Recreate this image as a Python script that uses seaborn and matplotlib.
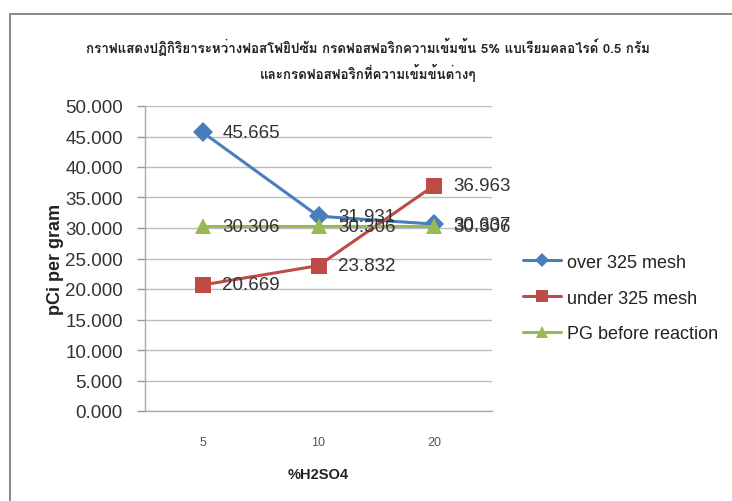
import matplotlib
matplotlib.use("Agg")
import matplotlib.pyplot as plt
from matplotlib import font_manager
from matplotlib.patches import Rectangle
from fontTools.ttLib import TTFont
import pandas as pd
import seaborn as sns

# Data
concentrations = ["5", "10", "20"]
over_325 = [45.665, 31.931, 30.637]
under_325 = [20.669, 23.832, 36.963]
pg_before = [30.306, 30.306, 30.306]
series_names = ["over 325 mesh", "under 325 mesh", "PG before reaction"]
title_lines = [
    "กราฟแสดงปฏิกิริยาระหว่างฟอสโฟยิปซัม กรดฟอสฟอริกความเข้มข้น 5% แบเรียมคลอไรด์ 0.5 กรัม",
    "และกรดฟอสฟอริกที่ความเข้มข้นต่างๆ",
]


def find_thai_family():
    for f in font_manager.fontManager.ttflist:
        try:
            tt = TTFont(f.fname, fontNumber=0, lazy=True)
            cmap = tt.getBestCmap()
            if cmap and 0x0E01 in cmap and 0x0E1F in cmap:
                return f.name
        except Exception:
            continue
    return None


thai_family = find_thai_family()

df = pd.DataFrame({
    "conc": concentrations * 3,
    "value": over_325 + under_325 + pg_before,
    "series": [series_names[0]] * 3 + [series_names[1]] * 3 + [series_names[2]] * 3,
})

colors = ["#4A7EBB", "#BE4B48", "#98B954"]
markers = {series_names[0]: "D", series_names[1]: "s", series_names[2]: "^"}
msizes = {series_names[0]: 10, series_names[1]: 12, series_names[2]: 12}

sns.set_theme(style="white")
plt.rcParams["font.family"] = ["Liberation Sans", "DejaVu Sans"]

fig = plt.figure(figsize=(7.32, 5.02), dpi=100)
ax = fig.add_axes([145 / 732, 1 - 412 / 502, 347 / 732, 305 / 502])

# outer chart frame
fig.patches.append(Rectangle((10 / 732, -0.1), 1.2, 1 - 15 / 502 + 0.1,
                             transform=fig.transFigure, fill=False,
                             edgecolor="#7F7F7F", linewidth=1.3))

sns.lineplot(data=df, x="conc", y="value", hue="series", style="series",
             markers=markers, dashes=False, palette=colors, linewidth=2.2,
             markeredgewidth=0, ax=ax, legend=False, sort=False)
for line, name in zip(ax.lines, series_names):
    line.set_markersize(msizes[name])

ax.set_xlim(-0.5, 2.5)
ax.set_ylim(0, 50)
ax.set_yticks(range(0, 51, 5))
ax.set_yticklabels([f"{v:.3f}" for v in range(0, 51, 5)], fontsize=13.5, color="#333333")
ax.set_xticks(range(len(concentrations)))
ax.set_xticklabels(concentrations, fontsize=9, color="#555555")
ax.tick_params(axis="x", length=0, pad=18)
ax.tick_params(axis="y", length=6, width=1, color="#999999", left=True, pad=10)
ax.grid(axis="y", color="#BDBDBD", linewidth=1)
ax.set_axisbelow(True)
for s in ["top", "right"]:
    ax.spines[s].set_visible(False)
for s in ["left", "bottom"]:
    ax.spines[s].set_color("#AAAAAA")
    ax.spines[s].set_linewidth(1)

ax.set_xlabel("%H2SO4", fontsize=10.5, fontweight="bold", color="#222222", labelpad=14)
ax.set_ylabel("pCi per gram", fontsize=13, fontweight="bold", color="#222222", labelpad=1)

# value labels to the right of each point
for vals in [over_325, under_325, pg_before]:
    for i, v in enumerate(vals):
        ax.annotate(f"{v:.3f}", (i, v), xytext=(14, 0), textcoords="offset points",
                    va="center", ha="left", fontsize=13.5, color="#333333")

# legend
handles = []
for name, c in zip(series_names, colors):
    h, = ax.plot([], [], color=c, marker=markers[name], markersize=msizes[name] * 0.7,
                 linewidth=2.2, markeredgewidth=0)
    handles.append(h)
fig.legend(handles, series_names, loc="center left", bbox_to_anchor=(507 / 732, 1 - 299 / 502),
           frameon=False, fontsize=13, handlelength=2.1, handletextpad=0.3,
           labelspacing=1.05, labelcolor="#222222")

fam = [thai_family, "DejaVu Sans"] if thai_family else ["DejaVu Sans"]
fig.text(368 / 732, 1 - 47 / 502, title_lines[0], ha="center", va="center",
         fontsize=9.6, fontweight="bold", family=fam, color="#222222")
fig.text(368 / 732, 1 - 73 / 502, title_lines[1], ha="center", va="center",
         fontsize=9.6, fontweight="bold", family=fam, color="#222222")

fig.savefig("out.png", dpi=100)
